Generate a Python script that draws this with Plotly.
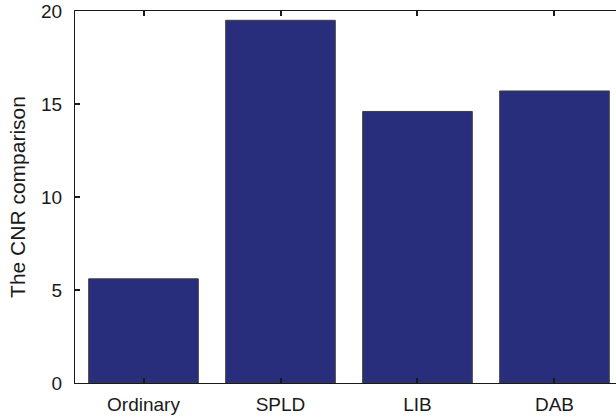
import plotly.graph_objects as go

# CNR values per method
methods = ["Ordinary", "SPLD", "LIB", "DAB"]
cnr = [5.6, 19.5, 14.6, 15.7]
y_ticks = [0, 5, 10, 15, 20]

bar_color = "#292E7C"
edge_color = "#3c3c3c"
font_family = "Liberation Sans, Arial, Helvetica, sans-serif"

fig = go.Figure(
    go.Bar(
        x=list(range(len(methods))),
        y=cnr,
        width=0.8,
        marker=dict(color=bar_color, line=dict(color=edge_color, width=1)),
    )
)

fig.update_layout(
    width=616,
    height=417,
    margin=dict(l=75, r=0, t=11, b=34),
    paper_bgcolor="white",
    plot_bgcolor="white",
    showlegend=False,
    font=dict(family=font_family, size=19, color="#1a1a1a"),
)

fig.update_xaxes(
    range=[-0.5, 3.449],
    tickmode="array",
    tickvals=list(range(len(methods))),
    ticktext=methods,
    ticks="inside",
    ticklen=5,
    tickwidth=1.5,
    tickcolor="#1a1a1a",
    showline=True,
    linecolor="#1a1a1a",
    linewidth=1.3,
    mirror="ticks",
    showgrid=False,
    zeroline=False,
    ticklabelstandoff=4,
)

fig.update_yaxes(
    range=[0, 20],
    tickmode="array",
    tickvals=y_ticks,
    ticks="inside",
    ticklen=5,
    tickwidth=1.5,
    tickcolor="#1a1a1a",
    showline=True,
    linecolor="#1a1a1a",
    linewidth=1.3,
    showgrid=False,
    zeroline=False,
    ticklabelstandoff=8,
    title=dict(text="The CNR comparison", standoff=9, font=dict(size=21)),
)

fig.write_html("out.html")
